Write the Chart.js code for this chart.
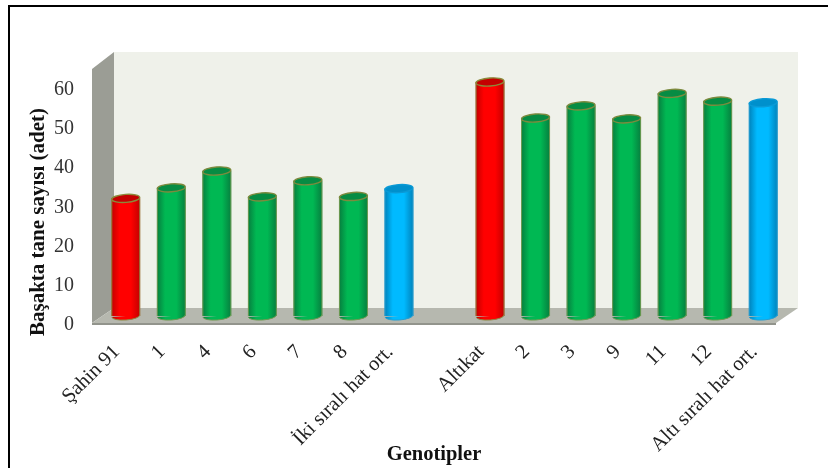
<!DOCTYPE html>
<html><head><meta charset="utf-8">
<style>
html,body{margin:0;padding:0;background:#fff;width:828px;height:468px;overflow:hidden}
#frame{position:absolute;left:8px;top:5px;right:0;bottom:0;border-left:2px solid #000;border-top:2px solid #000}
canvas{position:absolute;left:0;top:0}
</style>
<script src="https://cdn.jsdelivr.net/npm/chart.js@4"></script>
</head><body>
<canvas id="c" width="828" height="468"></canvas>
<div id="frame"></div>
<script>
const categories = ['Şahin 91','1','4','6','7','8','İki sıralı hat ort.','','Altıkat','2','3','9','11','12','Altı sıralı hat ort.'];
const grainCounts = [30,32.7,37,30.4,34.5,30.5,32.5,null,59.7,50.5,53.6,50.3,56.8,54.8,54.4];
const barKinds = ['check','line','line','line','line','line','mean','none','check','line','line','line','line','line','mean'];
const yTicks = [0,10,20,30,40,50,60];
const yTitle = 'Başakta tane sayısı (adet)';
const xTitle = 'Genotipler';

const palette = {
  check:{edge:'#c40000',mid:'#ff0000',top:'#c40000',rim:'#8a8a3a',side:'#8f8a45'},
  line:{edge:'#06803f',mid:'#00b853',top:'#078c43',rim:'#7d8a3e',side:'#6f9a52'},
  mean:{edge:'#0084bd',mid:'#00baff',top:'#0090cc',rim:'#0a9ad6',side:'#2a9fd0'},
  none:{edge:'#fff',mid:'#fff',top:'#fff',rim:'#fff',side:'#fff'}
};
const serif = '"Liberation Serif", serif';
const depthX = 22, depthY = 15, tilt = -0.07, ry = 4;

function sideGradient(ctx, x, w, p){
  const g = ctx.createLinearGradient(x - w/2, 0, x + w/2, 0);
  g.addColorStop(0, p.edge); g.addColorStop(0.28, p.mid);
  g.addColorStop(0.68, p.mid); g.addColorStop(1, p.edge);
  return g;
}

const walls = {
  id:'walls',
  beforeDatasetsDraw(chart){
    const {ctx} = chart;
    const backL = 114, backR = 798, backTop = 52, backBottom = 308;
    const frontL = backL - depthX, frontR = backR - depthX, frontBottom = 323;
    ctx.save();
    ctx.fillStyle = '#eff1ea';
    ctx.fillRect(backL, backTop, backR-backL, backBottom-backTop);
    ctx.fillStyle = '#9b9d95';
    ctx.beginPath();
    ctx.moveTo(frontL, backTop+depthY+2); ctx.lineTo(backL, backTop);
    ctx.lineTo(backL, backBottom); ctx.lineTo(frontL, frontBottom); ctx.closePath(); ctx.fill();
    ctx.fillStyle = '#b6b8af';
    ctx.beginPath();
    ctx.moveTo(frontL, frontBottom); ctx.lineTo(backL, backBottom);
    ctx.lineTo(backR, backBottom); ctx.lineTo(frontR, frontBottom); ctx.closePath(); ctx.fill();
    ctx.fillStyle = '#92948c';
    ctx.beginPath();
    ctx.moveTo(frontL, frontBottom); ctx.lineTo(frontR, frontBottom);
    ctx.lineTo(frontR, frontBottom+2); ctx.lineTo(frontL, frontBottom+2); ctx.closePath(); ctx.fill();
    ctx.restore();
  },
  afterDatasetsDraw(chart){
    const {ctx} = chart;
    const meta = chart.getDatasetMeta(0);
    const base = chart.scales.y.getPixelForValue(0);
    meta.data.forEach((bar,i)=>{
      if (grainCounts[i] === null) return;
      const p = palette[barKinds[i]], x = bar.x, w = bar.width, rx = w/2, top = bar.y;
      ctx.save();
      ctx.fillStyle = sideGradient(ctx, x, w, p);
      ctx.beginPath();
      ctx.ellipse(x, base, rx, ry, tilt, 0, Math.PI);
      ctx.fill();
      ctx.strokeStyle = p.side; ctx.lineWidth = 1;
      ctx.stroke();
      ctx.beginPath();
      ctx.moveTo(x-rx, top); ctx.lineTo(x-rx, base); 
      ctx.moveTo(x+rx, top); ctx.lineTo(x+rx, base);
      ctx.stroke();
      ctx.beginPath();
      ctx.ellipse(x, top, rx, ry, tilt, 0, Math.PI*2);
      ctx.fillStyle = p.top; ctx.fill();
      ctx.strokeStyle = p.rim; ctx.lineWidth = 1.4; ctx.stroke();
      ctx.restore();
    });
  },
  afterDraw(chart){
    const {ctx} = chart;
    ctx.save();
    ctx.font = 'bold 20.5px '+serif;
    ctx.fillStyle = '#111';
    ctx.textAlign = 'center'; ctx.textBaseline = 'middle';
    ctx.fillText(xTitle, 434, 455);
    ctx.translate(39, 222);
    ctx.rotate(-Math.PI/2);
    ctx.font = 'bold 21px '+serif;
    ctx.fillText(yTitle, 0, 0);
    ctx.restore();
  }
};

new Chart(document.getElementById('c'),{
  type:'bar',
  data:{labels:categories,datasets:[{
    data:grainCounts,
    barThickness:28,
    borderWidth:0,
    backgroundColor(c){
      const sx = c.chart.scales.x;
      if(!sx || c.dataIndex === undefined) return '#00b050';
      const x = sx.getPixelForValue(c.dataIndex);
      if(!Number.isFinite(x)) return '#00b050';
      return sideGradient(c.chart.ctx, x, 28, palette[barKinds[c.dataIndex]]);
    }
  }]},
  options:{
    responsive:false,animation:false,
    layout:{padding:{top:53.36,right:42,left:0,bottom:0}},
    plugins:{legend:{display:false},tooltip:{enabled:false}},
    scales:{
      x:{
        grid:{display:false},border:{display:false},
        afterFit(s){s.height=152},
        ticks:{autoSkip:false,maxRotation:45,minRotation:45,padding:16,labelOffset:-9,font:{family:serif,size:20.5},color:'#222'}
      },
      y:{
        min:0,max:67,
        grid:{display:false},border:{display:false},
        afterFit(s){s.width=103},
        afterBuildTicks(s){s.ticks=yTicks.map(v=>({value:v}))},
        ticks:{padding:21,labelOffset:9,font:{family:serif,size:20},color:'#333'}
      }
    }
  },
  plugins:[walls]
});
</script>
</body></html>
